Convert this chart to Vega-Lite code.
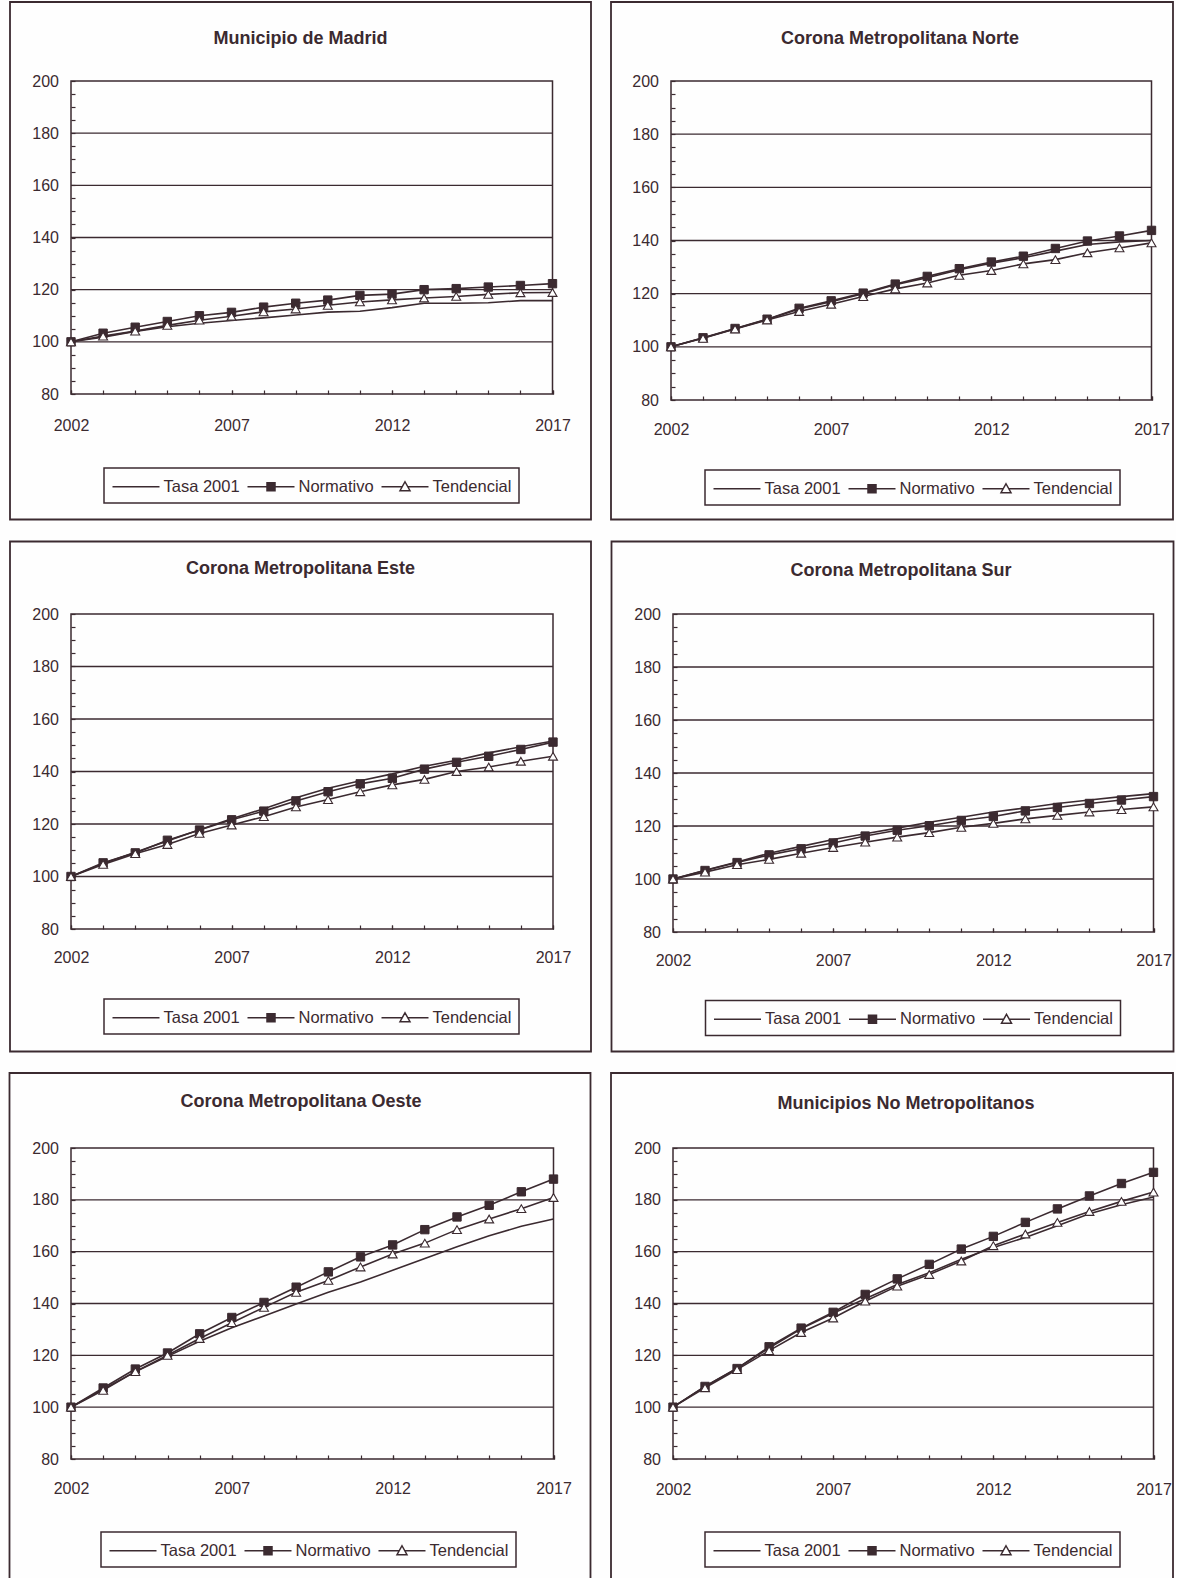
{
  "$schema": "https://vega.github.io/schema/vega-lite/v6.json",
  "background": "#fefefe",
  "padding": {"left": 7, "top": 0, "right": 0, "bottom": 0},
  "datasets": {
    "grid": [{"g": 100}, {"g": 120}, {"g": 140}, {"g": 160}, {"g": 180}],
    "vals": [
      {"zona": "Madrid", "year": 2002, "Tasa 2001": 100, "Normativo": 100, "Tendencial": 100},
      {"zona": "Madrid", "year": 2003, "Tasa 2001": 101.8, "Normativo": 103.3, "Tendencial": 102.2},
      {"zona": "Madrid", "year": 2004, "Tasa 2001": 104.0, "Normativo": 105.6, "Tendencial": 104.1},
      {"zona": "Madrid", "year": 2005, "Tasa 2001": 105.8, "Normativo": 107.8, "Tendencial": 106.3},
      {"zona": "Madrid", "year": 2006, "Tasa 2001": 107.1, "Normativo": 110.0, "Tendencial": 108.3},
      {"zona": "Madrid", "year": 2007, "Tasa 2001": 108.2, "Normativo": 111.3, "Tendencial": 109.8},
      {"zona": "Madrid", "year": 2008, "Tasa 2001": 109.2, "Normativo": 113.3, "Tendencial": 111.5},
      {"zona": "Madrid", "year": 2009, "Tasa 2001": 110.3, "Normativo": 114.8, "Tendencial": 112.6},
      {"zona": "Madrid", "year": 2010, "Tasa 2001": 111.4, "Normativo": 116.0, "Tendencial": 114.0},
      {"zona": "Madrid", "year": 2011, "Tasa 2001": 111.7, "Normativo": 117.8, "Tendencial": 115.3},
      {"zona": "Madrid", "year": 2012, "Tasa 2001": 113.1, "Normativo": 118.3, "Tendencial": 116.1},
      {"zona": "Madrid", "year": 2013, "Tasa 2001": 114.8, "Normativo": 120.0, "Tendencial": 116.8},
      {"zona": "Madrid", "year": 2014, "Tasa 2001": 114.8, "Normativo": 120.4, "Tendencial": 117.4},
      {"zona": "Madrid", "year": 2015, "Tasa 2001": 115.0, "Normativo": 121.0, "Tendencial": 118.2},
      {"zona": "Madrid", "year": 2016, "Tasa 2001": 115.8, "Normativo": 121.6, "Tendencial": 118.8},
      {"zona": "Madrid", "year": 2017, "Tasa 2001": 115.8, "Normativo": 122.3, "Tendencial": 118.9},
      {"zona": "Norte", "year": 2002, "Tasa 2001": 100, "Normativo": 100, "Tendencial": 100},
      {"zona": "Norte", "year": 2003, "Tasa 2001": 103.3, "Normativo": 103.4, "Tendencial": 103.2},
      {"zona": "Norte", "year": 2004, "Tasa 2001": 106.8, "Normativo": 106.9, "Tendencial": 106.7},
      {"zona": "Norte", "year": 2005, "Tasa 2001": 110.3, "Normativo": 110.4, "Tendencial": 110.1},
      {"zona": "Norte", "year": 2006, "Tasa 2001": 114.2, "Normativo": 114.5, "Tendencial": 113.3},
      {"zona": "Norte", "year": 2007, "Tasa 2001": 117.0, "Normativo": 117.3, "Tendencial": 116.0},
      {"zona": "Norte", "year": 2008, "Tasa 2001": 120.0, "Normativo": 120.2, "Tendencial": 118.9},
      {"zona": "Norte", "year": 2009, "Tasa 2001": 123.4, "Normativo": 123.6, "Tendencial": 121.8},
      {"zona": "Norte", "year": 2010, "Tasa 2001": 126.0, "Normativo": 126.5, "Tendencial": 124.0},
      {"zona": "Norte", "year": 2011, "Tasa 2001": 129.0, "Normativo": 129.4, "Tendencial": 126.9},
      {"zona": "Norte", "year": 2012, "Tasa 2001": 131.5, "Normativo": 131.9, "Tendencial": 128.7},
      {"zona": "Norte", "year": 2013, "Tasa 2001": 133.5, "Normativo": 134.1, "Tendencial": 131.2},
      {"zona": "Norte", "year": 2014, "Tasa 2001": 136.0, "Normativo": 137.0, "Tendencial": 132.8},
      {"zona": "Norte", "year": 2015, "Tasa 2001": 138.5, "Normativo": 139.8, "Tendencial": 135.4},
      {"zona": "Norte", "year": 2016, "Tasa 2001": 139.5, "Normativo": 141.7, "Tendencial": 137.2},
      {"zona": "Norte", "year": 2017, "Tasa 2001": 140.0, "Normativo": 143.8, "Tendencial": 139.1},
      {"zona": "Este", "year": 2002, "Tasa 2001": 100, "Normativo": 100, "Tendencial": 100},
      {"zona": "Este", "year": 2003, "Tasa 2001": 105.0, "Normativo": 105.2, "Tendencial": 104.6},
      {"zona": "Este", "year": 2004, "Tasa 2001": 109.2, "Normativo": 109.0, "Tendencial": 108.7},
      {"zona": "Este", "year": 2005, "Tasa 2001": 113.5, "Normativo": 113.8, "Tendencial": 112.2},
      {"zona": "Este", "year": 2006, "Tasa 2001": 117.8, "Normativo": 117.7, "Tendencial": 116.4},
      {"zona": "Este", "year": 2007, "Tasa 2001": 122.0, "Normativo": 121.6, "Tendencial": 119.6},
      {"zona": "Este", "year": 2008, "Tasa 2001": 125.8, "Normativo": 124.9, "Tendencial": 122.8},
      {"zona": "Este", "year": 2009, "Tasa 2001": 130.0, "Normativo": 128.8, "Tendencial": 126.5},
      {"zona": "Este", "year": 2010, "Tasa 2001": 133.6, "Normativo": 132.3, "Tendencial": 129.3},
      {"zona": "Este", "year": 2011, "Tasa 2001": 136.5, "Normativo": 135.3, "Tendencial": 132.3},
      {"zona": "Este", "year": 2012, "Tasa 2001": 139.1, "Normativo": 137.4, "Tendencial": 134.9},
      {"zona": "Este", "year": 2013, "Tasa 2001": 142.0, "Normativo": 140.9, "Tendencial": 137.0},
      {"zona": "Este", "year": 2014, "Tasa 2001": 144.3, "Normativo": 143.5, "Tendencial": 140.0},
      {"zona": "Este", "year": 2015, "Tasa 2001": 147.1, "Normativo": 145.8, "Tendencial": 141.7},
      {"zona": "Este", "year": 2016, "Tasa 2001": 149.4, "Normativo": 148.4, "Tendencial": 143.9},
      {"zona": "Este", "year": 2017, "Tasa 2001": 151.6, "Normativo": 151.2, "Tendencial": 145.8},
      {"zona": "Sur", "year": 2002, "Tasa 2001": 100, "Normativo": 100, "Tendencial": 100},
      {"zona": "Sur", "year": 2003, "Tasa 2001": 103.3, "Normativo": 103.2, "Tendencial": 102.6},
      {"zona": "Sur", "year": 2004, "Tasa 2001": 106.4, "Normativo": 106.2, "Tendencial": 105.4},
      {"zona": "Sur", "year": 2005, "Tasa 2001": 109.7, "Normativo": 109.1, "Tendencial": 107.4},
      {"zona": "Sur", "year": 2006, "Tasa 2001": 112.3, "Normativo": 111.4, "Tendencial": 109.7},
      {"zona": "Sur", "year": 2007, "Tasa 2001": 114.9, "Normativo": 113.6, "Tendencial": 111.9},
      {"zona": "Sur", "year": 2008, "Tasa 2001": 117.1, "Normativo": 116.2, "Tendencial": 113.9},
      {"zona": "Sur", "year": 2009, "Tasa 2001": 119.2, "Normativo": 118.4, "Tendencial": 115.8},
      {"zona": "Sur", "year": 2010, "Tasa 2001": 121.4, "Normativo": 120.1, "Tendencial": 117.5},
      {"zona": "Sur", "year": 2011, "Tasa 2001": 123.3, "Normativo": 122.1, "Tendencial": 119.5},
      {"zona": "Sur", "year": 2012, "Tasa 2001": 125.3, "Normativo": 123.6, "Tendencial": 121.0},
      {"zona": "Sur", "year": 2013, "Tasa 2001": 126.8, "Normativo": 125.7, "Tendencial": 122.7},
      {"zona": "Sur", "year": 2014, "Tasa 2001": 128.5, "Normativo": 127.0, "Tendencial": 124.0},
      {"zona": "Sur", "year": 2015, "Tasa 2001": 129.8, "Normativo": 128.5, "Tendencial": 125.3},
      {"zona": "Sur", "year": 2016, "Tasa 2001": 131.1, "Normativo": 129.8, "Tendencial": 126.2},
      {"zona": "Sur", "year": 2017, "Tasa 2001": 132.2, "Normativo": 131.1, "Tendencial": 127.2},
      {"zona": "Oeste", "year": 2002, "Tasa 2001": 100, "Normativo": 100, "Tendencial": 100},
      {"zona": "Oeste", "year": 2003, "Tasa 2001": 106.9, "Normativo": 107.4, "Tendencial": 106.5},
      {"zona": "Oeste", "year": 2004, "Tasa 2001": 113.7, "Normativo": 114.7, "Tendencial": 113.7},
      {"zona": "Oeste", "year": 2005, "Tasa 2001": 119.6, "Normativo": 120.9, "Tendencial": 120.0},
      {"zona": "Oeste", "year": 2006, "Tasa 2001": 125.4, "Normativo": 128.3, "Tendencial": 126.5},
      {"zona": "Oeste", "year": 2007, "Tasa 2001": 130.6, "Normativo": 134.6, "Tendencial": 132.6},
      {"zona": "Oeste", "year": 2008, "Tasa 2001": 135.2, "Normativo": 140.4, "Tendencial": 138.5},
      {"zona": "Oeste", "year": 2009, "Tasa 2001": 139.8, "Normativo": 146.3, "Tendencial": 144.3},
      {"zona": "Oeste", "year": 2010, "Tasa 2001": 144.3, "Normativo": 152.2, "Tendencial": 148.9},
      {"zona": "Oeste", "year": 2011, "Tasa 2001": 148.3, "Normativo": 158.0, "Tendencial": 154.1},
      {"zona": "Oeste", "year": 2012, "Tasa 2001": 152.8, "Normativo": 162.6, "Tendencial": 159.1},
      {"zona": "Oeste", "year": 2013, "Tasa 2001": 157.4, "Normativo": 168.5, "Tendencial": 163.3},
      {"zona": "Oeste", "year": 2014, "Tasa 2001": 161.9, "Normativo": 173.4, "Tendencial": 168.5},
      {"zona": "Oeste", "year": 2015, "Tasa 2001": 166.1, "Normativo": 177.9, "Tendencial": 172.6},
      {"zona": "Oeste", "year": 2016, "Tasa 2001": 169.8, "Normativo": 183.1, "Tendencial": 176.6},
      {"zona": "Oeste", "year": 2017, "Tasa 2001": 172.6, "Normativo": 188.0, "Tendencial": 180.9},
      {"zona": "NoMetro", "year": 2002, "Tasa 2001": 100, "Normativo": 100, "Tendencial": 100},
      {"zona": "NoMetro", "year": 2003, "Tasa 2001": 108.0, "Normativo": 108.0, "Tendencial": 107.5},
      {"zona": "NoMetro", "year": 2004, "Tasa 2001": 115.0, "Normativo": 114.9, "Tendencial": 114.5},
      {"zona": "NoMetro", "year": 2005, "Tasa 2001": 122.8, "Normativo": 123.3, "Tendencial": 121.8},
      {"zona": "NoMetro", "year": 2006, "Tasa 2001": 130.2, "Normativo": 130.5, "Tendencial": 128.8},
      {"zona": "NoMetro", "year": 2007, "Tasa 2001": 136.2, "Normativo": 136.6, "Tendencial": 134.4},
      {"zona": "NoMetro", "year": 2008, "Tasa 2001": 141.8, "Normativo": 143.5, "Tendencial": 140.9},
      {"zona": "NoMetro", "year": 2009, "Tasa 2001": 147.3, "Normativo": 149.5, "Tendencial": 146.7},
      {"zona": "NoMetro", "year": 2010, "Tasa 2001": 151.9, "Normativo": 155.1, "Tendencial": 151.2},
      {"zona": "NoMetro", "year": 2011, "Tasa 2001": 157.1, "Normativo": 161.0, "Tendencial": 156.4},
      {"zona": "NoMetro", "year": 2012, "Tasa 2001": 161.6, "Normativo": 165.9, "Tendencial": 162.3},
      {"zona": "NoMetro", "year": 2013, "Tasa 2001": 165.5, "Normativo": 171.3, "Tendencial": 166.8},
      {"zona": "NoMetro", "year": 2014, "Tasa 2001": 170.0, "Normativo": 176.5, "Tendencial": 171.3},
      {"zona": "NoMetro", "year": 2015, "Tasa 2001": 174.6, "Normativo": 181.5, "Tendencial": 175.5},
      {"zona": "NoMetro", "year": 2016, "Tasa 2001": 178.1, "Normativo": 186.3, "Tendencial": 179.4},
      {"zona": "NoMetro", "year": 2017, "Tasa 2001": 181.1, "Normativo": 190.6, "Tendencial": 183.0}
    ]
  },
  "spacing": 17,
  "resolve": {"scale": {"shape": "independent"}, "legend": {"shape": "independent"}},
  "vconcat": [
    {
      "spacing": 16,
      "resolve": {"scale": {"shape": "independent"}, "legend": {"shape": "independent"}},
      "hconcat": [
        {
          "width": 481.5, "height": 313,
          "title": {"text": "Municipio de Madrid", "offset": -47},
          "resolve": {"axis": {"x": "independent", "y": "independent"}},
          "layer": [
            {"data": {"name": "grid"}, "mark": {"type": "rule", "stroke": "#3b2a30", "strokeWidth": 1.3},
             "encoding": {"y": {"field": "g", "type": "quantitative", "title": null, "axis": null, "scale": {"domain": [80, 200], "nice": false, "zero": false}}}},
            {"data": {"values": [{}]}, "mark": {"type": "rect", "fill": "transparent", "stroke": "#3b2a30", "strokeWidth": 1.8},
             "encoding": {"x": {"datum": 2000.0997, "type": "quantitative", "axis": null}, "x2": {"datum": 2018.1994}, "y": {"datum": 31.885, "type": "quantitative", "axis": null}, "y2": {"datum": 230.288}}},
            {"data": {"name": "vals"}, "transform": [{"filter": "datum.zona === 'Madrid'"}, {"fold": ["Tasa 2001", "Normativo", "Tendencial"], "as": ["serie", "valor"]}],
             "mark": {"type": "line", "stroke": "#3b2a30", "strokeWidth": 1.6},
             "encoding": {
               "x": {"field": "year", "type": "quantitative", "title": null, "scale": {"domain": [2002, 2017], "nice": false, "zero": false}, "axis": {"orient": "bottom", "title": null, "values": [2002,2003,2004,2005,2006,2007,2008,2009,2010,2011,2012,2013,2014,2015,2016,2017], "labels": false}},
               "y": {"field": "valor", "type": "quantitative", "title": null, "scale": {"domain": [80, 200], "nice": false, "zero": false}, "axis": {"orient": "left", "title": null, "values": [80,85,90,95,100,105,110,115,120,125,130,135,140,145,150,155,160,165,170,175,180,185,190,195,200], "labelExpr": "datum.value % 20 === 0 ? datum.label : ''", "labelPadding": 16.5, "labelOverlap": false}},
               "detail": {"field": "serie", "type": "nominal"}}},
            {"data": {"name": "vals"}, "transform": [{"filter": "datum.zona === 'Madrid'"}, {"fold": ["Tasa 2001", "Normativo", "Tendencial"], "as": ["serie", "valor"]}, {"filter": "datum.serie === 'Normativo'"}],
             "mark": {"type": "point", "shape": "square", "filled": true, "fill": "#3b2a30", "stroke": "#3b2a30", "strokeWidth": 1, "size": 70, "opacity": 1},
             "encoding": {"x": {"field": "year", "type": "quantitative", "title": null, "axis": {"orient": "bottom", "title": null, "format": "d", "values": [2002, 2007, 2012, 2017], "labelPadding": 27.5, "labelOverlap": false}},
                          "y": {"field": "valor", "type": "quantitative", "title": null, "axis": null}}},
            {"data": {"name": "vals"}, "transform": [{"filter": "datum.zona === 'Madrid'"}, {"fold": ["Tasa 2001", "Normativo", "Tendencial"], "as": ["serie", "valor"]}, {"filter": "datum.serie === 'Tendencial'"}],
             "mark": {"type": "point", "shape": "triangle-up", "filled": true, "fill": "#ffffff", "stroke": "#3b2a30", "strokeWidth": 1.1, "size": 80, "opacity": 1},
             "encoding": {"x": {"field": "year", "type": "quantitative", "title": null, "axis": null}, "y": {"field": "valor", "type": "quantitative", "title": null, "axis": null}}},
            {"data": {"name": "vals"}, "transform": [{"filter": "datum.zona === 'Madrid'"}, {"fold": ["Tasa 2001", "Normativo", "Tendencial"], "as": ["serie", "valor"]}],
             "mark": {"type": "point", "filled": false, "fill": "transparent", "stroke": "transparent", "strokeWidth": 1.5},
             "encoding": {"x": {"field": "year", "type": "quantitative", "title": null, "axis": null}, "y": {"field": "valor", "type": "quantitative", "title": null, "axis": null},
               "shape": {"field": "serie", "type": "nominal", "scale": {"domain": ["Tasa 2001", "Normativo", "Tendencial"], "range": ["M-1,0H3.7", "M-1,0H3.7M0.95,-0.4H1.75V0.4H0.95ZM0.95,-0.27H1.75M0.95,-0.13H1.75M0.95,0H1.75M0.95,0.13H1.75M0.95,0.27H1.75", "M-1,0H1.07M1.63,0H3.7M1.35,-0.5L1.85,0.4H0.85Z"]},
                 "legend": {"orient": "none", "legendX": 33, "legendY": 387, "direction": "horizontal", "title": null, "symbolStrokeColor": "#3b2a30"}}}}
          ]
        },
        {
          "width": 480.5, "height": 319,
          "title": {"text": "Corona Metropolitana Norte", "offset": -47, "dx": 8},
          "resolve": {"axis": {"x": "independent", "y": "independent"}},
          "layer": [
            {"data": {"name": "grid"}, "mark": {"type": "rule", "stroke": "#3b2a30", "strokeWidth": 1.3},
             "encoding": {"y": {"field": "g", "type": "quantitative", "title": null, "axis": null, "scale": {"domain": [80, 200], "nice": false, "zero": false}}}},
            {"data": {"values": [{}]}, "mark": {"type": "rect", "fill": "transparent", "stroke": "#3b2a30", "strokeWidth": 1.8},
             "encoding": {"x": {"datum": 2000.127, "type": "quantitative", "axis": null}, "x2": {"datum": 2017.671}, "y": {"datum": 35.047, "type": "quantitative", "axis": null}, "y2": {"datum": 229.718}}},
            {"data": {"name": "vals"}, "transform": [{"filter": "datum.zona === 'Norte'"}, {"fold": ["Tasa 2001", "Normativo", "Tendencial"], "as": ["serie", "valor"]}],
             "mark": {"type": "line", "stroke": "#3b2a30", "strokeWidth": 1.6},
             "encoding": {
               "x": {"field": "year", "type": "quantitative", "title": null, "scale": {"domain": [2002, 2017], "nice": false, "zero": false}, "axis": {"orient": "bottom", "title": null, "values": [2002,2003,2004,2005,2006,2007,2008,2009,2010,2011,2012,2013,2014,2015,2016,2017], "labels": false}},
               "y": {"field": "valor", "type": "quantitative", "title": null, "scale": {"domain": [80, 200], "nice": false, "zero": false}, "axis": {"orient": "left", "title": null, "values": [80,85,90,95,100,105,110,115,120,125,130,135,140,145,150,155,160,165,170,175,180,185,190,195,200], "labelExpr": "datum.value % 20 === 0 ? datum.label : ''", "labelPadding": 16.5, "labelOverlap": false}},
               "detail": {"field": "serie", "type": "nominal"}}},
            {"data": {"name": "vals"}, "transform": [{"filter": "datum.zona === 'Norte'"}, {"fold": ["Tasa 2001", "Normativo", "Tendencial"], "as": ["serie", "valor"]}, {"filter": "datum.serie === 'Normativo'"}],
             "mark": {"type": "point", "shape": "square", "filled": true, "fill": "#3b2a30", "stroke": "#3b2a30", "strokeWidth": 1, "size": 70, "opacity": 1},
             "encoding": {"x": {"field": "year", "type": "quantitative", "title": null, "axis": {"orient": "bottom", "title": null, "format": "d", "values": [2002, 2007, 2012, 2017], "labelPadding": 25.5, "labelOverlap": false}},
                          "y": {"field": "valor", "type": "quantitative", "title": null, "axis": null}}},
            {"data": {"name": "vals"}, "transform": [{"filter": "datum.zona === 'Norte'"}, {"fold": ["Tasa 2001", "Normativo", "Tendencial"], "as": ["serie", "valor"]}, {"filter": "datum.serie === 'Tendencial'"}],
             "mark": {"type": "point", "shape": "triangle-up", "filled": true, "fill": "#ffffff", "stroke": "#3b2a30", "strokeWidth": 1.1, "size": 80, "opacity": 1},
             "encoding": {"x": {"field": "year", "type": "quantitative", "title": null, "axis": null}, "y": {"field": "valor", "type": "quantitative", "title": null, "axis": null}}},
            {"data": {"name": "vals"}, "transform": [{"filter": "datum.zona === 'Norte'"}, {"fold": ["Tasa 2001", "Normativo", "Tendencial"], "as": ["serie", "valor"]}],
             "mark": {"type": "point", "filled": false, "fill": "transparent", "stroke": "transparent", "strokeWidth": 1.5},
             "encoding": {"x": {"field": "year", "type": "quantitative", "title": null, "axis": null}, "y": {"field": "valor", "type": "quantitative", "title": null, "axis": null},
               "shape": {"field": "serie", "type": "nominal", "scale": {"domain": ["Tasa 2001", "Normativo", "Tendencial"], "range": ["M-1,0H3.7", "M-1,0H3.7M0.95,-0.4H1.75V0.4H0.95ZM0.95,-0.27H1.75M0.95,-0.13H1.75M0.95,0H1.75M0.95,0.13H1.75M0.95,0.27H1.75", "M-1,0H1.07M1.63,0H3.7M1.35,-0.5L1.85,0.4H0.85Z"]},
                 "legend": {"orient": "none", "legendX": 34, "legendY": 389, "direction": "horizontal", "title": null, "symbolStrokeColor": "#3b2a30"}}}}
          ]
        }
      ]
    },
    {
      "spacing": 16,
      "resolve": {"scale": {"shape": "independent"}, "legend": {"shape": "independent"}},
      "hconcat": [
        {
          "width": 482, "height": 315,
          "title": {"text": "Corona Metropolitana Este", "offset": -37},
          "resolve": {"axis": {"x": "independent", "y": "independent"}},
          "layer": [
            {"data": {"name": "grid"}, "mark": {"type": "rule", "stroke": "#3b2a30", "strokeWidth": 1.3},
             "encoding": {"y": {"field": "g", "type": "quantitative", "title": null, "axis": null, "scale": {"domain": [80, 200], "nice": false, "zero": false}}}},
            {"data": {"values": [{}]}, "mark": {"type": "rect", "fill": "transparent", "stroke": "#3b2a30", "strokeWidth": 1.8},
             "encoding": {"x": {"datum": 2000.1016, "type": "quantitative", "axis": null}, "x2": {"datum": 2018.1826}, "y": {"datum": 33.333, "type": "quantitative", "axis": null}, "y2": {"datum": 227.619}}},
            {"data": {"name": "vals"}, "transform": [{"filter": "datum.zona === 'Este'"}, {"fold": ["Tasa 2001", "Normativo", "Tendencial"], "as": ["serie", "valor"]}],
             "mark": {"type": "line", "stroke": "#3b2a30", "strokeWidth": 1.6},
             "encoding": {
               "x": {"field": "year", "type": "quantitative", "title": null, "scale": {"domain": [2002, 2017], "nice": false, "zero": false}, "axis": {"orient": "bottom", "title": null, "values": [2002,2003,2004,2005,2006,2007,2008,2009,2010,2011,2012,2013,2014,2015,2016,2017], "labels": false}},
               "y": {"field": "valor", "type": "quantitative", "title": null, "scale": {"domain": [80, 200], "nice": false, "zero": false}, "axis": {"orient": "left", "title": null, "values": [80,85,90,95,100,105,110,115,120,125,130,135,140,145,150,155,160,165,170,175,180,185,190,195,200], "labelExpr": "datum.value % 20 === 0 ? datum.label : ''", "labelPadding": 16.5, "labelOverlap": false}},
               "detail": {"field": "serie", "type": "nominal"}}},
            {"data": {"name": "vals"}, "transform": [{"filter": "datum.zona === 'Este'"}, {"fold": ["Tasa 2001", "Normativo", "Tendencial"], "as": ["serie", "valor"]}, {"filter": "datum.serie === 'Normativo'"}],
             "mark": {"type": "point", "shape": "square", "filled": true, "fill": "#3b2a30", "stroke": "#3b2a30", "strokeWidth": 1, "size": 70, "opacity": 1},
             "encoding": {"x": {"field": "year", "type": "quantitative", "title": null, "axis": {"orient": "bottom", "title": null, "format": "d", "values": [2002, 2007, 2012, 2017], "labelPadding": 24.5, "labelOverlap": false}},
                          "y": {"field": "valor", "type": "quantitative", "title": null, "axis": null}}},
            {"data": {"name": "vals"}, "transform": [{"filter": "datum.zona === 'Este'"}, {"fold": ["Tasa 2001", "Normativo", "Tendencial"], "as": ["serie", "valor"]}, {"filter": "datum.serie === 'Tendencial'"}],
             "mark": {"type": "point", "shape": "triangle-up", "filled": true, "fill": "#ffffff", "stroke": "#3b2a30", "strokeWidth": 1.1, "size": 80, "opacity": 1},
             "encoding": {"x": {"field": "year", "type": "quantitative", "title": null, "axis": null}, "y": {"field": "valor", "type": "quantitative", "title": null, "axis": null}}},
            {"data": {"name": "vals"}, "transform": [{"filter": "datum.zona === 'Este'"}, {"fold": ["Tasa 2001", "Normativo", "Tendencial"], "as": ["serie", "valor"]}],
             "mark": {"type": "point", "filled": false, "fill": "transparent", "stroke": "transparent", "strokeWidth": 1.5},
             "encoding": {"x": {"field": "year", "type": "quantitative", "title": null, "axis": null}, "y": {"field": "valor", "type": "quantitative", "title": null, "axis": null},
               "shape": {"field": "serie", "type": "nominal", "scale": {"domain": ["Tasa 2001", "Normativo", "Tendencial"], "range": ["M-1,0H3.7", "M-1,0H3.7M0.95,-0.4H1.75V0.4H0.95ZM0.95,-0.27H1.75M0.95,-0.13H1.75M0.95,0H1.75M0.95,0.13H1.75M0.95,0.27H1.75", "M-1,0H1.07M1.63,0H3.7M1.35,-0.5L1.85,0.4H0.85Z"]},
                 "legend": {"orient": "none", "legendX": 33, "legendY": 385, "direction": "horizontal", "title": null, "symbolStrokeColor": "#3b2a30"}}}}
          ]
        },
        {
          "width": 480.5, "height": 318,
          "title": {"text": "Corona Metropolitana Sur", "offset": -39, "dx": 8.5},
          "resolve": {"axis": {"x": "independent", "y": "independent"}},
          "layer": [
            {"data": {"name": "grid"}, "mark": {"type": "rule", "stroke": "#3b2a30", "strokeWidth": 1.3},
             "encoding": {"y": {"field": "g", "type": "quantitative", "title": null, "axis": null, "scale": {"domain": [80, 200], "nice": false, "zero": false}}}},
            {"data": {"values": [{}]}, "mark": {"type": "rect", "fill": "transparent", "stroke": "#3b2a30", "strokeWidth": 1.8},
             "encoding": {"x": {"datum": 2000.080, "type": "quantitative", "axis": null}, "x2": {"datum": 2017.6244}, "y": {"datum": 34.906, "type": "quantitative", "axis": null}, "y2": {"datum": 227.358}}},
            {"data": {"name": "vals"}, "transform": [{"filter": "datum.zona === 'Sur'"}, {"fold": ["Tasa 2001", "Normativo", "Tendencial"], "as": ["serie", "valor"]}],
             "mark": {"type": "line", "stroke": "#3b2a30", "strokeWidth": 1.6},
             "encoding": {
               "x": {"field": "year", "type": "quantitative", "title": null, "scale": {"domain": [2002, 2017], "nice": false, "zero": false}, "axis": {"orient": "bottom", "title": null, "values": [2002,2003,2004,2005,2006,2007,2008,2009,2010,2011,2012,2013,2014,2015,2016,2017], "labels": false}},
               "y": {"field": "valor", "type": "quantitative", "title": null, "scale": {"domain": [80, 200], "nice": false, "zero": false}, "axis": {"orient": "left", "title": null, "values": [80,85,90,95,100,105,110,115,120,125,130,135,140,145,150,155,160,165,170,175,180,185,190,195,200], "labelExpr": "datum.value % 20 === 0 ? datum.label : ''", "labelPadding": 16.5, "labelOverlap": false}},
               "detail": {"field": "serie", "type": "nominal"}}},
            {"data": {"name": "vals"}, "transform": [{"filter": "datum.zona === 'Sur'"}, {"fold": ["Tasa 2001", "Normativo", "Tendencial"], "as": ["serie", "valor"]}, {"filter": "datum.serie === 'Normativo'"}],
             "mark": {"type": "point", "shape": "square", "filled": true, "fill": "#3b2a30", "stroke": "#3b2a30", "strokeWidth": 1, "size": 70, "opacity": 1},
             "encoding": {"x": {"field": "year", "type": "quantitative", "title": null, "axis": {"orient": "bottom", "title": null, "format": "d", "values": [2002, 2007, 2012, 2017], "labelPadding": 24.5, "labelOverlap": false}},
                          "y": {"field": "valor", "type": "quantitative", "title": null, "axis": null}}},
            {"data": {"name": "vals"}, "transform": [{"filter": "datum.zona === 'Sur'"}, {"fold": ["Tasa 2001", "Normativo", "Tendencial"], "as": ["serie", "valor"]}, {"filter": "datum.serie === 'Tendencial'"}],
             "mark": {"type": "point", "shape": "triangle-up", "filled": true, "fill": "#ffffff", "stroke": "#3b2a30", "strokeWidth": 1.1, "size": 80, "opacity": 1},
             "encoding": {"x": {"field": "year", "type": "quantitative", "title": null, "axis": null}, "y": {"field": "valor", "type": "quantitative", "title": null, "axis": null}}},
            {"data": {"name": "vals"}, "transform": [{"filter": "datum.zona === 'Sur'"}, {"fold": ["Tasa 2001", "Normativo", "Tendencial"], "as": ["serie", "valor"]}],
             "mark": {"type": "point", "filled": false, "fill": "transparent", "stroke": "transparent", "strokeWidth": 1.5},
             "encoding": {"x": {"field": "year", "type": "quantitative", "title": null, "axis": null}, "y": {"field": "valor", "type": "quantitative", "title": null, "axis": null},
               "shape": {"field": "serie", "type": "nominal", "scale": {"domain": ["Tasa 2001", "Normativo", "Tendencial"], "range": ["M-1,0H3.7", "M-1,0H3.7M0.95,-0.4H1.75V0.4H0.95ZM0.95,-0.27H1.75M0.95,-0.13H1.75M0.95,0H1.75M0.95,0.13H1.75M0.95,0.27H1.75", "M-1,0H1.07M1.63,0H3.7M1.35,-0.5L1.85,0.4H0.85Z"]},
                 "legend": {"orient": "none", "legendX": 32.5, "legendY": 386.5, "direction": "horizontal", "title": null, "symbolStrokeColor": "#3b2a30"}}}}
          ]
        }
      ]
    },
    {
      "spacing": 16,
      "resolve": {"scale": {"shape": "independent"}, "legend": {"shape": "independent"}},
      "hconcat": [
        {
          "width": 482.5, "height": 311,
          "title": {"text": "Corona Metropolitana Oeste", "offset": -39, "dx": 1},
          "resolve": {"axis": {"x": "independent", "y": "independent"}},
          "layer": [
            {"data": {"name": "grid"}, "mark": {"type": "rule", "stroke": "#3b2a30", "strokeWidth": 1.3},
             "encoding": {"y": {"field": "g", "type": "quantitative", "title": null, "axis": null, "scale": {"domain": [80, 200], "nice": false, "zero": false}}}},
            {"data": {"values": [{}]}, "mark": {"type": "rect", "fill": "transparent", "stroke": "#3b2a30", "strokeWidth": 1.8},
             "encoding": {"x": {"datum": 2000.088, "type": "quantitative", "axis": null}, "x2": {"datum": 2018.150}, "y": {"datum": 30.23, "type": "quantitative", "axis": null}, "y2": {"datum": 228.94}}},
            {"data": {"name": "vals"}, "transform": [{"filter": "datum.zona === 'Oeste'"}, {"fold": ["Tasa 2001", "Normativo", "Tendencial"], "as": ["serie", "valor"]}],
             "mark": {"type": "line", "stroke": "#3b2a30", "strokeWidth": 1.6},
             "encoding": {
               "x": {"field": "year", "type": "quantitative", "title": null, "scale": {"domain": [2002, 2017], "nice": false, "zero": false}, "axis": {"orient": "bottom", "title": null, "values": [2002,2003,2004,2005,2006,2007,2008,2009,2010,2011,2012,2013,2014,2015,2016,2017], "labels": false}},
               "y": {"field": "valor", "type": "quantitative", "title": null, "scale": {"domain": [80, 200], "nice": false, "zero": false}, "axis": {"orient": "left", "title": null, "values": [80,85,90,95,100,105,110,115,120,125,130,135,140,145,150,155,160,165,170,175,180,185,190,195,200], "labelExpr": "datum.value % 20 === 0 ? datum.label : ''", "labelPadding": 16.5, "labelOverlap": false}},
               "detail": {"field": "serie", "type": "nominal"}}},
            {"data": {"name": "vals"}, "transform": [{"filter": "datum.zona === 'Oeste'"}, {"fold": ["Tasa 2001", "Normativo", "Tendencial"], "as": ["serie", "valor"]}, {"filter": "datum.serie === 'Normativo'"}],
             "mark": {"type": "point", "shape": "square", "filled": true, "fill": "#3b2a30", "stroke": "#3b2a30", "strokeWidth": 1, "size": 70, "opacity": 1},
             "encoding": {"x": {"field": "year", "type": "quantitative", "title": null, "axis": {"orient": "bottom", "title": null, "format": "d", "values": [2002, 2007, 2012, 2017], "labelPadding": 25.5, "labelOverlap": false}},
                          "y": {"field": "valor", "type": "quantitative", "title": null, "axis": null}}},
            {"data": {"name": "vals"}, "transform": [{"filter": "datum.zona === 'Oeste'"}, {"fold": ["Tasa 2001", "Normativo", "Tendencial"], "as": ["serie", "valor"]}, {"filter": "datum.serie === 'Tendencial'"}],
             "mark": {"type": "point", "shape": "triangle-up", "filled": true, "fill": "#ffffff", "stroke": "#3b2a30", "strokeWidth": 1.1, "size": 80, "opacity": 1},
             "encoding": {"x": {"field": "year", "type": "quantitative", "title": null, "axis": null}, "y": {"field": "valor", "type": "quantitative", "title": null, "axis": null}}},
            {"data": {"name": "vals"}, "transform": [{"filter": "datum.zona === 'Oeste'"}, {"fold": ["Tasa 2001", "Normativo", "Tendencial"], "as": ["serie", "valor"]}],
             "mark": {"type": "point", "filled": false, "fill": "transparent", "stroke": "transparent", "strokeWidth": 1.5},
             "encoding": {"x": {"field": "year", "type": "quantitative", "title": null, "axis": null}, "y": {"field": "valor", "type": "quantitative", "title": null, "axis": null},
               "shape": {"field": "serie", "type": "nominal", "scale": {"domain": ["Tasa 2001", "Normativo", "Tendencial"], "range": ["M-1,0H3.7", "M-1,0H3.7M0.95,-0.4H1.75V0.4H0.95ZM0.95,-0.27H1.75M0.95,-0.13H1.75M0.95,0H1.75M0.95,0.13H1.75M0.95,0.27H1.75", "M-1,0H1.07M1.63,0H3.7M1.35,-0.5L1.85,0.4H0.85Z"]},
                 "legend": {"orient": "none", "legendX": 30, "legendY": 384, "direction": "horizontal", "title": null, "symbolStrokeColor": "#3b2a30"}}}}
          ]
        },
        {
          "width": 480.5, "height": 311,
          "title": {"text": "Municipios No Metropolitanos", "offset": -40.5, "dx": 14},
          "resolve": {"axis": {"x": "independent", "y": "independent"}},
          "layer": [
            {"data": {"name": "grid"}, "mark": {"type": "rule", "stroke": "#3b2a30", "strokeWidth": 1.3},
             "encoding": {"y": {"field": "g", "type": "quantitative", "title": null, "axis": null, "scale": {"domain": [80, 200], "nice": false, "zero": false}}}},
            {"data": {"values": [{}]}, "mark": {"type": "rect", "fill": "transparent", "stroke": "#3b2a30", "strokeWidth": 1.8},
             "encoding": {"x": {"datum": 2000.0645, "type": "quantitative", "axis": null}, "x2": {"datum": 2017.6087}, "y": {"datum": 30.23, "type": "quantitative", "axis": null}, "y2": {"datum": 228.94}}},
            {"data": {"name": "vals"}, "transform": [{"filter": "datum.zona === 'NoMetro'"}, {"fold": ["Tasa 2001", "Normativo", "Tendencial"], "as": ["serie", "valor"]}],
             "mark": {"type": "line", "stroke": "#3b2a30", "strokeWidth": 1.6},
             "encoding": {
               "x": {"field": "year", "type": "quantitative", "title": null, "scale": {"domain": [2002, 2017], "nice": false, "zero": false}, "axis": {"orient": "bottom", "title": null, "values": [2002,2003,2004,2005,2006,2007,2008,2009,2010,2011,2012,2013,2014,2015,2016,2017], "labels": false}},
               "y": {"field": "valor", "type": "quantitative", "title": null, "scale": {"domain": [80, 200], "nice": false, "zero": false}, "axis": {"orient": "left", "title": null, "values": [80,85,90,95,100,105,110,115,120,125,130,135,140,145,150,155,160,165,170,175,180,185,190,195,200], "labelExpr": "datum.value % 20 === 0 ? datum.label : ''", "labelPadding": 16.5, "labelOverlap": false}},
               "detail": {"field": "serie", "type": "nominal"}}},
            {"data": {"name": "vals"}, "transform": [{"filter": "datum.zona === 'NoMetro'"}, {"fold": ["Tasa 2001", "Normativo", "Tendencial"], "as": ["serie", "valor"]}, {"filter": "datum.serie === 'Normativo'"}],
             "mark": {"type": "point", "shape": "square", "filled": true, "fill": "#3b2a30", "stroke": "#3b2a30", "strokeWidth": 1, "size": 70, "opacity": 1},
             "encoding": {"x": {"field": "year", "type": "quantitative", "title": null, "axis": {"orient": "bottom", "title": null, "format": "d", "values": [2002, 2007, 2012, 2017], "labelPadding": 26.5, "labelOverlap": false}},
                          "y": {"field": "valor", "type": "quantitative", "title": null, "axis": null}}},
            {"data": {"name": "vals"}, "transform": [{"filter": "datum.zona === 'NoMetro'"}, {"fold": ["Tasa 2001", "Normativo", "Tendencial"], "as": ["serie", "valor"]}, {"filter": "datum.serie === 'Tendencial'"}],
             "mark": {"type": "point", "shape": "triangle-up", "filled": true, "fill": "#ffffff", "stroke": "#3b2a30", "strokeWidth": 1.1, "size": 80, "opacity": 1},
             "encoding": {"x": {"field": "year", "type": "quantitative", "title": null, "axis": null}, "y": {"field": "valor", "type": "quantitative", "title": null, "axis": null}}},
            {"data": {"name": "vals"}, "transform": [{"filter": "datum.zona === 'NoMetro'"}, {"fold": ["Tasa 2001", "Normativo", "Tendencial"], "as": ["serie", "valor"]}],
             "mark": {"type": "point", "filled": false, "fill": "transparent", "stroke": "transparent", "strokeWidth": 1.5},
             "encoding": {"x": {"field": "year", "type": "quantitative", "title": null, "axis": null}, "y": {"field": "valor", "type": "quantitative", "title": null, "axis": null},
               "shape": {"field": "serie", "type": "nominal", "scale": {"domain": ["Tasa 2001", "Normativo", "Tendencial"], "range": ["M-1,0H3.7", "M-1,0H3.7M0.95,-0.4H1.75V0.4H0.95ZM0.95,-0.27H1.75M0.95,-0.13H1.75M0.95,0H1.75M0.95,0.13H1.75M0.95,0.27H1.75", "M-1,0H1.07M1.63,0H3.7M1.35,-0.5L1.85,0.4H0.85Z"]},
                 "legend": {"orient": "none", "legendX": 32, "legendY": 384, "direction": "horizontal", "title": null, "symbolStrokeColor": "#3b2a30"}}}}
          ]
        }
      ]
    }
  ],
  "config": {
    "view": {"stroke": "#3b2a30", "strokeWidth": 1.5},
    "title": {"font": "Liberation Sans", "fontSize": 18, "fontWeight": "bold", "color": "#3b2a30", "anchor": "middle", "frame": "bounds", "baseline": "alphabetic"},
    "axis": {"domain": false, "grid": false, "ticks": true, "tickColor": "#3b2a30", "tickWidth": 1.2, "tickSize": -4, "labelFont": "Liberation Sans", "labelFontSize": 16, "labelColor": "#3b2a30", "labelOverlap": false, "labelFlush": false, "labelAngle": 0},
    "legend": {"strokeColor": "#3b2a30", "strokeWidth": 1.5, "padding": 7.5, "labelFont": "Liberation Sans", "labelFontSize": 16.5, "labelColor": "#3b2a30", "labelOffset": 30, "symbolSize": 400, "symbolStrokeWidth": 1.5, "symbolStrokeColor": "#3b2a30", "symbolFillColor": "transparent", "symbolOpacity": 1, "symbolOffset": 0, "columnPadding": 4, "rowPadding": 0}
  }
}
